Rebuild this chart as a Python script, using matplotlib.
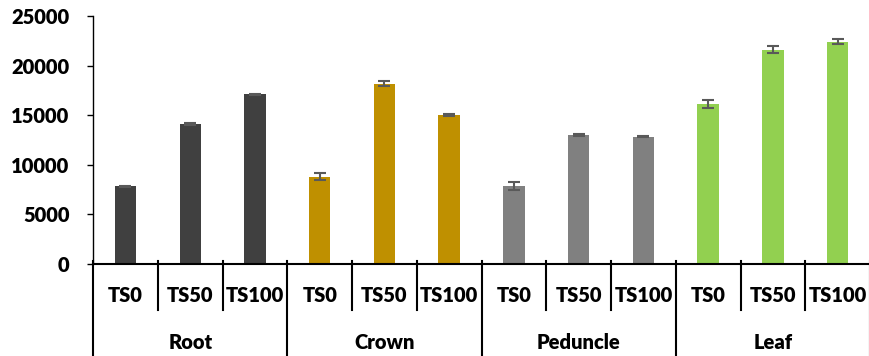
import matplotlib.pyplot as plt
from matplotlib.transforms import blended_transform_factory

tissues = ["Root", "Crown", "Peduncle", "Leaf"]
treatments = ["TS0", "TS50", "TS100"]
tissue_colors = ["#404040", "#bf9000", "#808080", "#92d050"]

means = [7850, 14100, 17100,
         8800, 18150, 15000,
         7900, 13000, 12850,
         16150, 21600, 22400]
errors = [60, 80, 60,
          380, 250, 80,
          400, 60, 60,
          420, 330, 250]

plt.rcParams['font.family'] = ['Lato', 'DejaVu Sans']
plt.rcParams['font.weight'] = 'heavy'

fig = plt.figure(figsize=(8.7, 3.56), dpi=100)
ax = fig.add_axes([0.107, 0.2584, 0.893, 0.6966])

x = list(range(len(means)))
colors = [c for c in tissue_colors for _ in treatments]
ax.bar(x, means, width=0.33, color=colors, zorder=2)
ax.errorbar(x, means, yerr=errors, fmt='none', ecolor='#595959',
            elinewidth=1.5, capsize=4.5, capthick=1.5, zorder=3)

ax.set_xlim(-0.5, len(means) - 0.5)
ax.set_ylim(0, 25000)
ax.set_yticks(range(0, 25001, 5000))
ax.tick_params(axis='y', labelsize=14.5, length=4, width=1, pad=13)
for lbl in ax.get_yticklabels():
    lbl.set_fontweight('heavy')
ax.set_xticks([])
for side in ['top', 'right']:
    ax.spines[side].set_visible(False)
ax.spines['left'].set_linewidth(1)
ax.spines['bottom'].set_linewidth(1.5)

# two-level category axis drawn under the plot
trans = blended_transform_factory(ax.transData, ax.transAxes)
n = len(treatments)
for i in range(len(means) + 1):
    xb = i - 0.5
    bottom = -0.371 if i % n == 0 else -0.185
    ax.plot([xb, xb], [0.012, bottom], color='black', lw=1.5,
            transform=trans, clip_on=False)
for i in x:
    ax.text(i, -0.125, treatments[i % n], transform=trans, ha='center',
            va='center', fontsize=14.5, fontweight='heavy')
for g, name in enumerate(tissues):
    ax.text(g * n + 1, -0.318, name, transform=trans, ha='center',
            va='center', fontsize=14.5, fontweight='heavy')

fig.savefig('out.png', dpi=100)
